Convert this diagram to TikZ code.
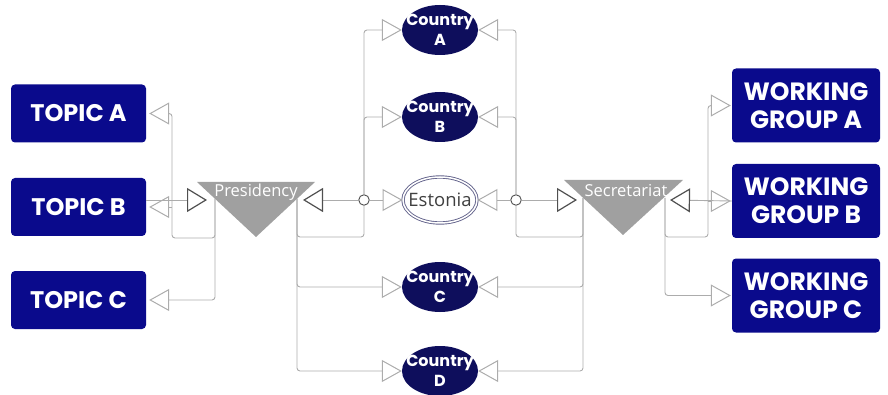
\documentclass[tikz,border=0pt]{standalone}
\usepackage{fontspec}
\newfontfamily\boxfont{Poppins}
\newfontfamily\labelfont{Open Sans}
\usetikzlibrary{arrows.meta,shapes.geometric}
\definecolor{boxblue}{RGB}{10,10,140}
\definecolor{navy}{RGB}{14,14,92}
\definecolor{trigray}{RGB}{160,160,160}
\definecolor{linegray}{RGB}{172,172,172}
\definecolor{tipdark}{RGB}{80,80,80}
\definecolor{rimblue}{RGB}{100,100,140}
\begin{document}
\begin{tikzpicture}[x=1pt,y=-1pt,
    topic/.style={fill=boxblue,rounded corners=4pt,minimum width=135pt,minimum height=58pt,
      inner sep=0pt,text=white,align=center,font=\boxfont\bfseries\fontsize{24}{28}\selectfont},
    group/.style={topic,minimum width=148pt,minimum height=74pt,font=\boxfont\bfseries\fontsize{25}{28}\selectfont},
    country/.style={ellipse,fill=navy,minimum width=76pt,minimum height=50pt,inner sep=0pt},
    ctytext/.style={text=white,align=center,inner sep=0pt,font=\boxfont\bfseries\fontsize{16}{20}\selectfont},
    member/.style={ellipse,draw=rimblue,line width=0.9pt,double=white,double distance=1.5pt,
      fill=white,minimum width=74pt,minimum height=46pt,inner sep=0pt},
    esttext/.style={text=black!75,inner sep=0pt,font=\labelfont\fontsize{18.5}{20}\selectfont},
    trilabel/.style={text=white,inner sep=0pt,anchor=base,font=\labelfont\fontsize{16.5}{18}\selectfont},
    junction/.style={circle,draw=tipdark,fill=white,line width=0.9pt,inner sep=0pt,minimum size=10.5pt},
    conn/.style={draw=linegray,line width=0.9pt,rounded corners=3pt,
      -{Triangle[open,length=20pt,width=22pt,line width=1pt]}},
    tobox/.style={conn,shorten >=3pt},
    inarrow/.style={conn,-{Triangle[open,length=20pt,width=24pt,line width=1.2pt,color=tipdark]}}]
  \useasboundingbox (0,0) rectangle (888,395);

  % outer boxes
  \node[topic] (topA) at (78.5,113.5) {TOPIC A};
  \node[topic] (topB) at (78.5,207) {TOPIC B};
  \node[topic] (topC) at (78.5,300) {TOPIC C};
  \node[group] (wgA) at (806,105.5) {WORKING\\GROUP A};
  \node[group] (wgB) at (806,201) {WORKING\\GROUP B};
  \node[group] (wgC) at (806,295.5) {WORKING\\GROUP C};

  % member states
  \node[country,label={[ctytext]center:Country\\A}] (ctyA) at (440,30) {};
  \node[country,label={[ctytext]center:Country\\B}] (ctyB) at (440,117) {};
  \node[member,label={[esttext]center:Estonia}] (est) at (440,200) {};
  \node[country,label={[ctytext]center:Country\\C}] (ctyC) at (440,287) {};
  \node[country,label={[ctytext]center:Country\\D}] (ctyD) at (440,371) {};

  % presidency and secretariat
  \fill[trigray] (197,182) -- (315,182) -- (256,237) -- cycle;
  \node[trilabel] (pres) at (256,197) {Presidency};
  \fill[trigray] (564,180) -- (683,180) -- (623,235) -- cycle;
  \node[trilabel] (secr) at (626,197) {Secretariat};
  \coordinate (presW) at (207,200);
  \coordinate (presE) at (303,200);
  \coordinate (presSW) at (215,199);
  \coordinate (presSE) at (297,199);
  \coordinate (secrW) at (577,200);
  \coordinate (secrE) at (670,200);
  \coordinate (secrSW) at (583,198);
  \coordinate (secrSE) at (665,198);
  \node[junction] (jL) at (364,200) {};
  \node[junction] (jR) at (516,200) {};

  % presidency - topics
  \draw[tobox] (presSW) |- (topC.east);
  \draw[tobox] (presSW) |- (172,238) |- (topA.east);
  \draw[tobox] (172,207) -- (topB.east);
  \draw[inarrow] ([yshift=7pt]topB.east) -- (presW);

  % presidency - countries
  \draw[inarrow] (jL) -- (presE);
  \draw[conn] (jL) -- (est.west);
  \draw[conn] (jL) |- (ctyA.west);
  \draw[conn] (jL) |- (ctyB.west);
  \draw[conn,-] (jL) |- (297,237) -- (presSE);
  \draw[conn] (presSE) |- (ctyC.west);
  \draw[conn] (presSE) |- (ctyD.west);

  % secretariat - countries
  \draw[inarrow] (jR) -- (secrW);
  \draw[conn] (jR) -- (est.east);
  \draw[conn] (jR) |- (ctyA.east);
  \draw[conn] (jR) |- (ctyB.east);
  \draw[conn,-] (jR) |- (583,237) -- (secrSW);
  \draw[conn] (secrSW) |- (ctyC.east);
  \draw[conn] (secrSW) |- (ctyD.east);

  % secretariat - working groups
  \draw[inarrow] (wgB.west) -- (secrE);
  \draw[conn,shorten >=1pt] (708,201) -- (wgB.west);
  \draw[conn,shorten >=1pt] (secrSE) |- (708,237) |- (wgA.west);
  \draw[conn,shorten >=1pt] (secrSE) |- (wgC.west);
\end{tikzpicture}
\end{document}
